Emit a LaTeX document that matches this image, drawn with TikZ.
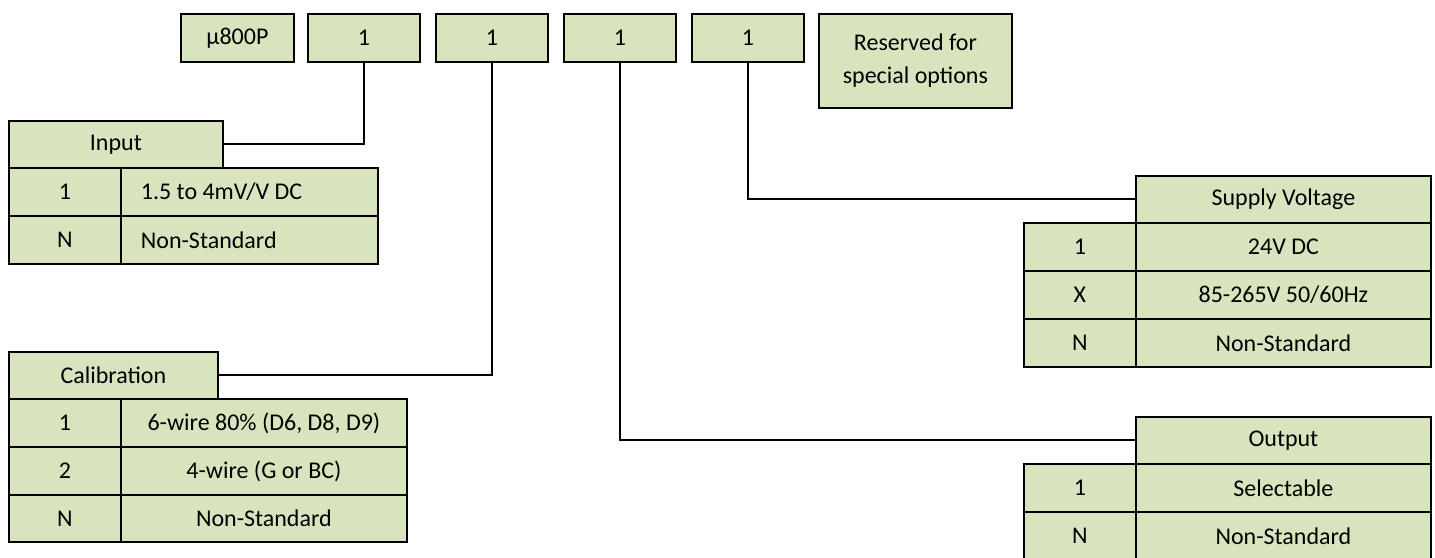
\documentclass[tikz,border=0pt]{standalone}
\usepackage{fontspec}
\setmainfont{Carlito}
\definecolor{cellgreen}{HTML}{D7E4BD}
\tikzset{
  cell/.style={draw=black, fill=cellgreen, line width=1.8pt, inner sep=0pt,
    anchor=north west, font=\fontsize{24}{28}\selectfont, align=center},
  leftcell/.style={cell, align=flush left, text width=#1, inner xsep=20pt},
  conn/.style={draw=black, line width=2pt},
}
\begin{document}
\begin{tikzpicture}[x=1pt,y=-1pt]
\useasboundingbox (0,0) rectangle (1435,557);
% top code boxes
\node[cell, minimum width=113pt, minimum height=48pt] (code) at (180,13) {µ800P};
\node[cell, minimum width=112pt, minimum height=48pt] (b1) at (307,13) {1};
\node[cell, minimum width=112pt, minimum height=48pt] (b2) at (435,13) {1};
\node[cell, minimum width=112pt, minimum height=48pt] (b3) at (563,13) {1};
\node[cell, minimum width=112pt, minimum height=48pt] (b4) at (691,13) {1};
\node[cell, minimum width=193pt, minimum height=94pt, font=\fontsize{24}{33}\selectfont] (res) at (818,13) {Reserved for\\special options};
% Input table
\node[cell, minimum width=214pt, minimum height=47pt] (inp) at (8,120) {Input};
\node[cell, minimum width=112pt, minimum height=48pt] (inpk1) at (8,167) {1};
\node[leftcell=217pt, minimum height=48pt] (inpv1) at (120,167) {1.5 to 4mV/V DC};
\node[cell, minimum width=112pt, minimum height=48pt] (inpk2) at (8,215) {N};
\node[leftcell=217pt, minimum height=48pt] (inpv2) at (120,215) {Non-Standard};
% Calibration table
\node[cell, minimum width=209pt, minimum height=47pt] (cal) at (8,351) {Calibration};
\node[cell, minimum width=112pt, minimum height=48pt] (calk1) at (8,398) {1};
\node[cell, minimum width=286pt, minimum height=48pt] (calv1) at (120,398) {6-wire 80\% (D6, D8, D9)};
\node[cell, minimum width=112pt, minimum height=48pt] (calk2) at (8,446) {2};
\node[cell, minimum width=286pt, minimum height=48pt] (calv2) at (120,446) {4-wire (G or BC)};
\node[cell, minimum width=112pt, minimum height=47pt] (calk3) at (8,494) {N};
\node[cell, minimum width=286pt, minimum height=47pt] (calv3) at (120,494) {Non-Standard};
% Supply Voltage table
\node[cell, minimum width=295pt, minimum height=47pt] (sup) at (1135,175) {Supply Voltage};
\node[cell, minimum width=112pt, minimum height=48pt] (supk1) at (1023,222) {1};
\node[cell, minimum width=295pt, minimum height=48pt] (supv1) at (1135,222) {24V DC};
\node[cell, minimum width=112pt, minimum height=48pt] (supk2) at (1023,270) {X};
\node[cell, minimum width=295pt, minimum height=48pt] (supv2) at (1135,270) {85-265V 50/60Hz};
\node[cell, minimum width=112pt, minimum height=48pt] (supk3) at (1023,318) {N};
\node[cell, minimum width=295pt, minimum height=48pt] (supv3) at (1135,318) {Non-Standard};
% Output table
\node[cell, minimum width=295pt, minimum height=47pt] (out) at (1135,416) {Output};
\node[cell, minimum width=112pt, minimum height=48pt] (outk1) at (1023,463) {1};
\node[cell, minimum width=295pt, minimum height=48pt] (outv1) at (1135,463) {Selectable};
\node[cell, minimum width=112pt, minimum height=48pt] (outk2) at (1023,511) {N};
\node[cell, minimum width=295pt, minimum height=48pt] (outv2) at (1135,511) {Non-Standard};
% connectors
\draw[conn] (b1.south) |- (inp.east);
\draw[conn] (b2.south) |- (cal.east);
\draw[conn] (b3.south) |- (out.west);
\draw[conn] (b4.south) |- (sup.west);
\end{tikzpicture}
\end{document}
